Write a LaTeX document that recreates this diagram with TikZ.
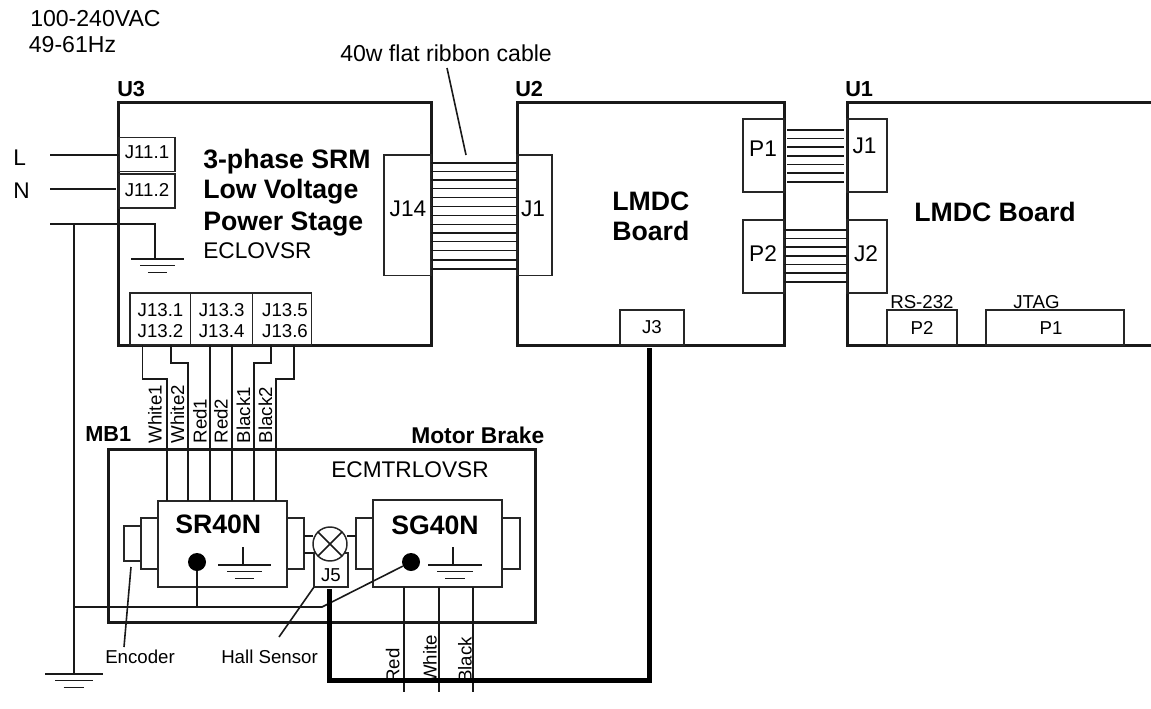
\documentclass[tikz,border=0pt]{standalone}
\usepackage{fontspec}
\setmainfont{Liberation Sans}
\newcommand{\bx}[6][]{%
  \pgfmathsetmacro{\bw}{(#5-#3)*0.75}\pgfmathsetmacro{\bh}{(#6-#4)*0.75}%
  \node[#1,rectangle,anchor=north west,inner sep=0pt,outer sep=0pt,minimum width=\bw pt,minimum height=\bh pt] (#2) at (#3,#4) {};}
\newcommand{\gnd}[4]{% name, x, y of the top bar, half width
  \coordinate (#1) at (#2,#3);
  \draw[wire] ([xshift=-#4*0.75pt]#1) -- ([xshift=#4*0.75pt]#1);
  \draw[wire] ([xshift=-#4*0.49pt,yshift=-5pt]#1) -- ([xshift=#4*0.49pt,yshift=-5pt]#1);
  \draw[wire] ([xshift=-#4*0.27pt,yshift=-10pt]#1) -- ([xshift=#4*0.27pt,yshift=-10pt]#1);}
\tikzset{
  x=0.75pt,y=-0.75pt,
  wire/.style={draw=black!90,line width=1.2pt},
  board/.style={draw=black!90,line width=2.25pt},
  part/.style={draw=black!85,line width=1.1pt},
  cable/.style={draw=black,line width=3.75pt},
  smalltxt/.style={inner sep=0pt,font=\fontsize{14}{16}\selectfont},
  midtxt/.style={inner sep=0pt,font=\fontsize{17}{19}\selectfont},
  toptxt/.style={inner sep=0pt,font=\fontsize{17.3}{19}\selectfont},
  headtxt/.style={inner sep=0pt,font=\fontsize{16.3}{18}\selectfont\bfseries},
  brandtxt/.style={inner sep=0pt,font=\fontsize{17.1}{19}\selectfont\bfseries},
  bigtxt/.style={inner sep=0pt,font=\fontsize{20}{22}\selectfont\bfseries},
  wiretxt/.style={inner sep=0pt,rotate=90,anchor=base west,font=\fontsize{14}{16}\selectfont},
}
\begin{document}
\begin{tikzpicture}
\useasboundingbox (0,0) rectangle (1151,709);
\clip (0,0) rectangle (1151,709);
% boards
\bx[board]{U3}{118}{103}{431}{345.5}
\bx[board]{U2}{517}{103}{784}{345.5}
\bx[board]{U1}{847}{103}{1160}{345.5}
\bx[board]{MB}{108}{449}{535}{622}
% U3 parts
\bx[part]{Ja}{119}{137.5}{175}{171.5}
\bx[part]{Jb}{119}{174}{175}{208}
\bx[part]{Jc}{130}{293}{190.5}{345}
\bx[part]{Jd}{190.5}{293}{252.5}{345}
\bx[part]{Je}{252.5}{293}{311.5}{345}
\bx[part]{Jf}{384}{155}{431}{275.7}
% U2 parts
\bx[part]{Jg}{517}{155}{552}{275.7}
\bx[part]{Jh}{620}{310}{684}{345}
\bx[part]{Pa}{743}{119}{784}{192}
\bx[part]{Pb}{743}{220}{784}{293}
% U1 parts
\bx[part]{Ka}{847}{119}{887}{192}
\bx[part]{Kb}{847}{220}{887}{293}
\bx[part]{Qa}{887}{310}{957}{345}
\bx[part]{Qb}{986}{310}{1124}{345}
% motor parts
\bx[part]{SR}{158}{501}{287}{587}
\bx[part]{SRl}{141}{518}{158}{569}
\bx[part]{Enc}{124}{526}{141}{561}
\bx[part]{SRr}{287}{518}{304}{569}
\bx[part]{SG}{373}{500}{502}{587}
\bx[part]{SGl}{356}{518}{373}{569}
\bx[part]{SGr}{502}{518}{520}{569}
\bx[part]{Jfive}{314}{553}{348}{587}
\node[part,circle,fill=white,inner sep=0pt,outer sep=0pt,minimum size=25.5pt] (lamp) at (330,544) {};
\draw[wire] (lamp.45) -- (lamp.225);
\draw[wire] (lamp.135) -- (lamp.315);
\draw[wire] (SRr.east |- 0,536) -- (lamp.west |- 0,536);
\draw[wire] (SRr.east |- 0,553) -- (lamp.west |- 0,553);
\draw[wire] (lamp.east |- 0,536) -- (SGl.west |- 0,536);
\node[circle,fill=black,inner sep=0pt,minimum size=13.5pt] (dotR) at (197,562) {};
\node[circle,fill=black,inner sep=0pt,minimum size=13.5pt] (dotG) at (411,562) {};
% mains
\coordinate (Ll) at (50,155);
\coordinate (Nl) at (50,189);
\coordinate (El) at (50,224);
\coordinate (Ej) at (74,224);
\draw[wire] (Ll) -- (Ja.west |- Ll);
\draw[wire] (Nl) -- (116,189);
\gnd{gA}{157.5}{259}{26.5}
\draw[wire] (El) -- (155,224) -- (155,259);
\gnd{gB}{74}{674}{29}
\draw[wire] (Ej) -- (gB);
% wires U3 to motor
\draw[wire] (142.5,0 |- Jc.south) -- (142.5,379) -- (166.7,379) -- (166.7,0 |- SR.north);
\draw[wire] (171,0 |- Jc.south) -- (171,363) -- (188,363) -- (188,0 |- SR.north);
\draw[wire] (210,0 |- Jd.south) -- (210,0 |- SR.north);
\draw[wire] (231.7,0 |- Jd.south) -- (231.7,0 |- SR.north);
\draw[wire] (271,0 |- Je.south) -- (271,363) -- (253.7,363) -- (253.7,0 |- SR.north);
\draw[wire] (294,0 |- Je.south) -- (294,379) -- (276,379) -- (276,0 |- SR.north);
% grounds inside motor
\gnd{gC}{244.5}{565}{26.5}
\draw[wire] (242.7,547) -- (242.7,565);
\gnd{gD}{455}{565}{27}
\draw[wire] (453,547) -- (453,565);
% earth line
\coordinate (Ee) at (73,607);
\coordinate (Ek) at (322,607);
\draw[wire] (Ee) -- (Ek) -- (dotG);
\draw[wire] (dotR) -- (dotR |- Ee);
% leaders
\coordinate (EncT) at (124,647);
\coordinate (HallT) at (279,637);
\coordinate (RibT) at (447,68);
\coordinate (RibB) at (466,155);
\draw[wire] (131,567) -- (EncT);
\draw[wire] (HallT) -- (Jfive.south west);
\draw[wire] (RibT) -- (RibB);
% SG wires
\draw[wire] (404,0 |- SG.south) -- (404,692);
\draw[wire] (439,0 |- SG.south) -- (439,692);
\draw[wire] (473,0 |- SG.south) -- (473,692);
% ribbons
\foreach \yy in {163.3,171.7,180,188.7,197.7,206.7,215.7,224.3,232.7,241.3,250.3,259.7,268.7}
  \draw[wire] (Jf.east |- 0,\yy) -- (Jg.west |- 0,\yy);
\foreach \yy in {130,138.7,147.3,156,164.7,173.3,182}
  \draw[wire] (787,\yy) -- (844,\yy);
\foreach \yy in {229.7,238.3,247,255.7,264.3,273,281.7}
  \draw[wire] (Pb.east |- 0,\yy) -- (Kb.west |- 0,\yy);
% thick cable
\draw[cable,line join=miter] (Jfive.south -| 329.5,0) ++(0,2) -- (329.5,680) -- (649,680) -- (649,348);
% labels
\node[toptxt,anchor=base west] (tVac) at (30,27) {100-240VAC};
\node[toptxt,anchor=base west] (tHz) at (28.6,53) {49-61Hz};
\node[toptxt,anchor=base west] (tRib) at (340,62) {40w flat ribbon cable};
\node[headtxt,anchor=base west] (tU3) at (117,96.7) {U3};
\node[headtxt,anchor=base west] (tU2) at (515,96.7) {U2};
\node[headtxt,anchor=base west] (tU1) at (845,96.7) {U1};
\node[midtxt,anchor=base west] (tL) at (13,166) {L};
\node[midtxt,anchor=base west] (tN) at (13,199) {N};
\node[smalltxt,anchor=base] (tJa) at (147,159) {J11.1};
\node[smalltxt,anchor=base] (tJb) at (147,197) {J11.2};
\node[bigtxt,anchor=base west] (tA) at (203,169) {3-phase SRM};
\node[bigtxt,anchor=base west] (tB) at (203,199) {Low Voltage};
\node[bigtxt,anchor=base west] (tC) at (203,230) {Power Stage};
\node[midtxt,anchor=base west] (tD) at (203,258) {ECLOVSR};
\node[smalltxt,anchor=base] (tc1) at (160.5,316.7) {J13.1};
\node[smalltxt,anchor=base] (tc2) at (160.5,337) {J13.2};
\node[smalltxt,anchor=base] (td1) at (221.7,316.7) {J13.3};
\node[smalltxt,anchor=base] (td2) at (221.7,337) {J13.4};
\node[smalltxt,anchor=base] (te1) at (285,316.7) {J13.5};
\node[smalltxt,anchor=base] (te2) at (285,337) {J13.6};
\node[midtxt,anchor=base] (tJf) at (408,216) {J14};
\node[midtxt,anchor=base] (tJg) at (533,216) {J1};
\node[bigtxt,anchor=base west] (tM1) at (612,210) {LMDC};
\node[bigtxt,anchor=base west] (tM2) at (612,240) {Board};
\node[smalltxt,anchor=base] (tJh) at (652,333) {J3};
\node[midtxt,anchor=base] (tPa) at (763,157) {P1};
\node[midtxt,anchor=base] (tPb) at (763,261) {P2};
\node[midtxt,anchor=base] (tKa) at (864.5,154) {J1};
\node[midtxt,anchor=base] (tKb) at (866,261) {J2};
\node[bigtxt,anchor=base west] (tM3) at (914,222) {LMDC Board};
\node[smalltxt,anchor=base west] (tRS) at (890,308) {RS-232};
\node[smalltxt,anchor=base west] (tJT) at (1013,308) {JTAG};
\node[smalltxt,anchor=base] (tQa) at (922,334) {P2};
\node[smalltxt,anchor=base] (tQb) at (1051,334) {P1};
\node[wiretxt] (w1) at (161.7,443.5) {White1};
\node[wiretxt] (w2) at (184,443.5) {White2};
\node[wiretxt] (w3) at (206.7,443.5) {Red1};
\node[wiretxt] (w4) at (227.7,443.5) {Red2};
\node[wiretxt] (w5) at (250,443.5) {Black1};
\node[wiretxt] (w6) at (272,443.5) {Black2};
\node[wiretxt] (w7) at (399.3,683) {Red};
\node[wiretxt] (w8) at (436.7,683) {White};
\node[wiretxt] (w9) at (471.7,683) {Black};
\node[headtxt,anchor=base west] (tMB) at (85,441) {MB1};
\node[brandtxt,anchor=base west] (tMo) at (411,443) {Motor Brake};
\node[midtxt,anchor=base west] (tEC) at (331,477.7) {ECMTRLOVSR};
\node[bigtxt,anchor=base west] (tSR) at (175,533) {SR40N};
\node[bigtxt,anchor=base west] (tSG) at (391,534) {SG40N};
\node[smalltxt,anchor=base] (tJ5) at (331,581) {J5};
\node[smalltxt,anchor=base west] (tEn) at (105,663) {Encoder};
\node[smalltxt,anchor=base west] (tHa) at (221,663) {Hall Sensor};
\end{tikzpicture}
\end{document}
